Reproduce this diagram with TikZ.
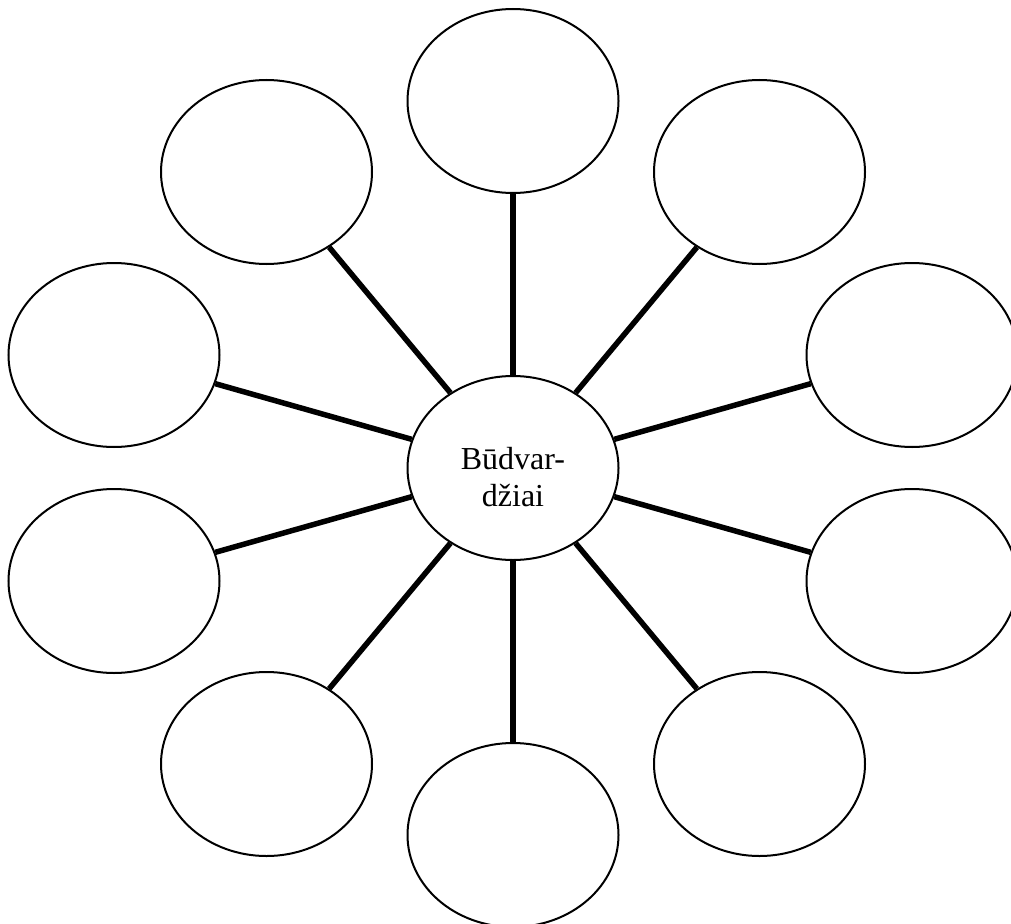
\documentclass[tikz,border=0pt]{standalone}
\usepackage{fontspec}
\setmainfont{Liberation Serif}
\usetikzlibrary{shapes.geometric}

\tikzset{
  blob/.style={ellipse,draw,line width=2pt,minimum width=211pt,minimum height=184pt,inner sep=0pt},
  spoke/.style={line width=5.5pt}
}

\begin{document}
\begin{tikzpicture}[x=1pt,y=-1pt]
    \useasboundingbox (0,0) rectangle (1011,923);

    % Centre
    \node[blob] (c) at (513,468) {};
    \node[align=center,font=\fontsize{32}{37}\selectfont,inner sep=0pt] (ct) at ([yshift=-9pt]c.center) {Būdvar-\\džiai};

    % Outer ring
    \foreach \n/\x/\y in {o1/513/101, o2/759.5/172, o3/912/355, o4/912/581, o5/759.5/764,
                          o6/513/835, o7/266.5/764, o8/114/581, o9/114/355, o10/266.5/172}
    {
        \node[blob] (\n) at (\x,\y) {};
        \draw[spoke] (c) -- (\n);
    }
\end{tikzpicture}
\end{document}
